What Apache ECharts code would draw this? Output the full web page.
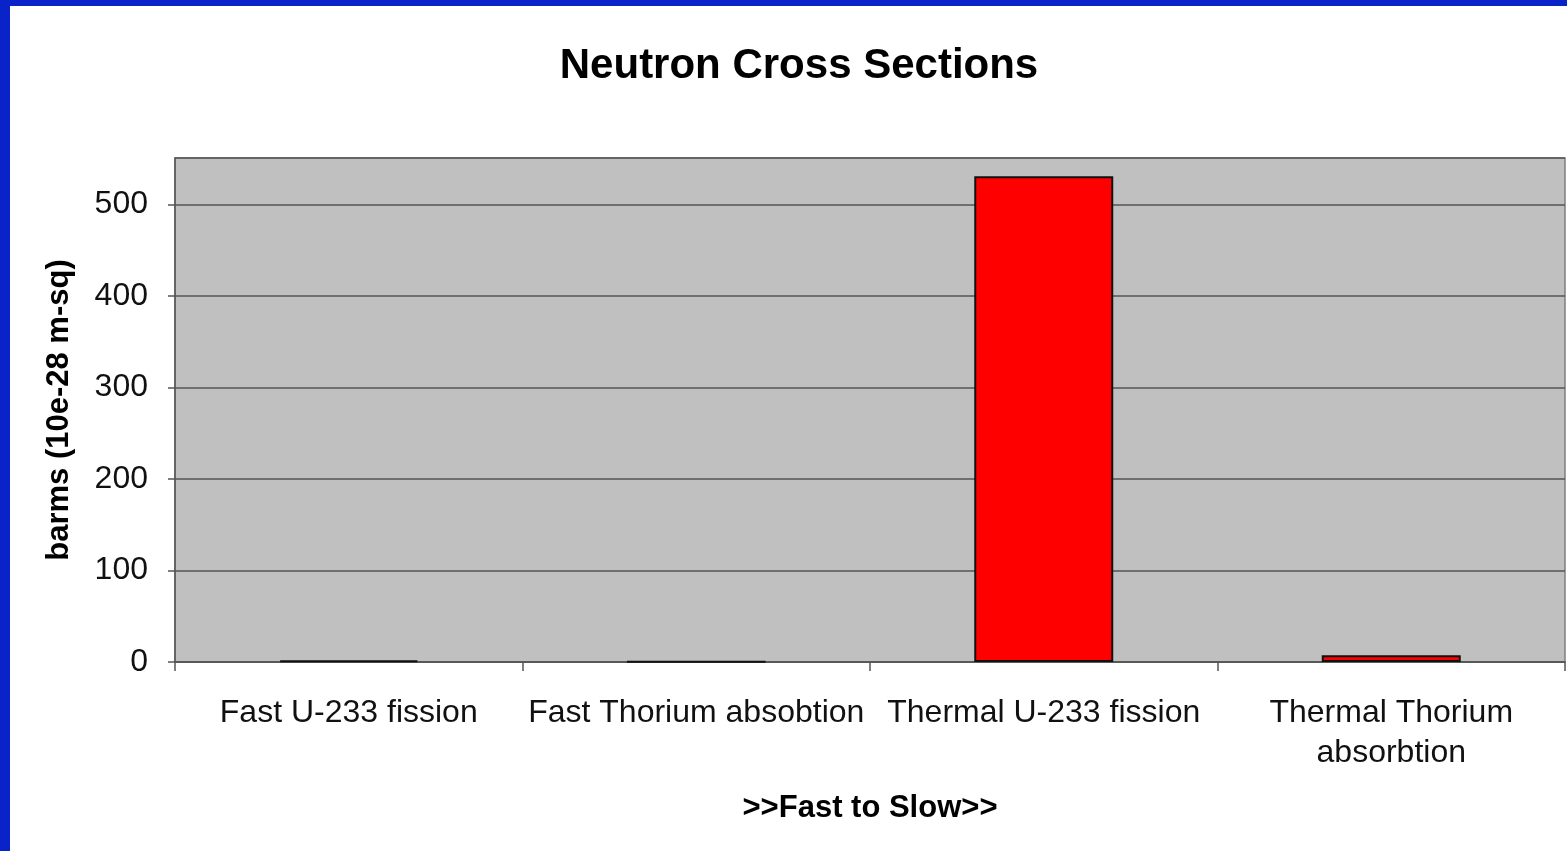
<!DOCTYPE html>
<html>
<head>
<meta charset="utf-8">
<script src="https://cdn.jsdelivr.net/npm/echarts@6/dist/echarts.min.js"></script>
<style>
  html, body { margin: 0; padding: 0; background: #ffffff; }
  #frame { position: absolute; left: 0; top: 0; width: 1567px; height: 851px; background: #ffffff; }
  #bt { position: absolute; left: 0; top: 0; width: 1567px; height: 6px; background: #0a23c8; }
  #bl { position: absolute; left: 0; top: 0; width: 10px; height: 851px; background: #0a23c8; }
  #chart { position: absolute; left: 0; top: 0; width: 1567px; height: 851px; }
</style>
</head>
<body>
<div id="frame">
  <div id="chart"></div>
  <div id="bt"></div>
  <div id="bl"></div>
</div>
<script>
const titleText = 'Neutron Cross Sections';
const categories = ['Fast U-233 fission', 'Fast Thorium absobtion', 'Thermal U-233 fission', 'Thermal Thorium\nabsorbtion'];
const crossSections = [1.9, 0.4, 531, 7.4];
const yAxisTitle = 'barms (10e-28 m-sq)';
const xAxisTitle = '>>Fast to Slow>>';

const chart = echarts.init(document.getElementById('chart'), null, { renderer: 'canvas' });
const font = 'Liberation Sans, Arial, sans-serif';
chart.setOption({
  backgroundColor: '#ffffff',
  animation: false,
  title: {
    text: titleText,
    left: 794, top: 40, textAlign: 'center',
    textStyle: { fontFamily: font, fontSize: 42, fontWeight: 'bold', color: '#000' }
  },
  grid: {
    left: 175, right: 2, top: 158, bottom: 189,
    show: true, backgroundColor: '#c0c0c0', borderColor: '#7f7f7f', borderWidth: 1.5
  },
  xAxis: {
    type: 'category',
    data: categories,
    name: xAxisTitle,
    nameLocation: 'middle',
    nameGap: 131,
    nameTextStyle: { fontFamily: font, fontSize: 31, fontWeight: 'bold', color: '#000' },
    axisLine: { lineStyle: { color: '#555', width: 1.5 } },
    axisTick: { show: true, length: 9, lineStyle: { color: '#555', width: 1.5 } },
    axisLabel: { fontFamily: font, fontSize: 32, color: '#111', margin: 31, lineHeight: 40, interval: 0 }
  },
  yAxis: {
    type: 'value',
    min: 0, max: 551, interval: 100,
    name: yAxisTitle,
    nameLocation: 'middle',
    nameGap: 100,
    nameRotate: 90,
    nameTextStyle: { fontFamily: font, fontSize: 31, fontWeight: 'bold', color: '#000' },
    axisLine: { show: true, lineStyle: { color: '#555', width: 1.5 } },
    axisTick: { show: true, length: 7, lineStyle: { color: '#555', width: 1.5 } },
    axisLabel: { fontFamily: font, fontSize: 32, color: '#111', margin: 27, showMaxLabel: false },
    splitLine: { show: true, lineStyle: { color: '#555', width: 1.5 } }
  },
  series: [{
    type: 'bar',
    data: crossSections,
    barWidth: '40%',
    itemStyle: { color: '#ff0000', borderColor: '#111', borderWidth: 2 }
  }]
});
</script>
</body>
</html>
